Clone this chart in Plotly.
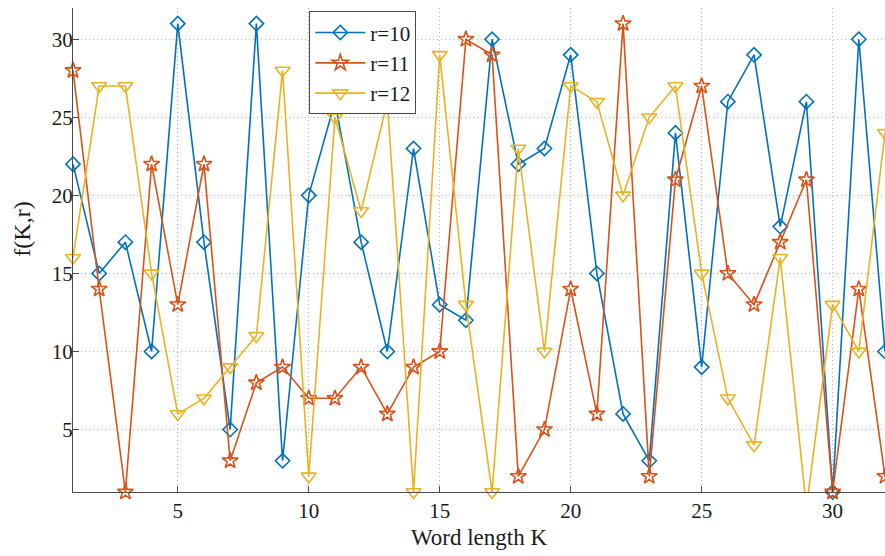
import plotly.graph_objects as go

K = list(range(1, 33))
r10 = [22, 15, 17, 10, 31, 17, 5, 31, 3, 20, 26, 17, 10, 23, 13, 12, 30, 22, 23, 29,
       15, 6, 3, 24, 9, 26, 29, 18, 26, 1, 30, 10]
r11 = [28, 14, 1, 22, 13, 22, 3, 8, 9, 7, 7, 9, 6, 9, 10, 30, 29, 2, 5, 14,
       6, 31, 2, 21, 27, 15, 13, 17, 21, 1, 14, 2]
r12 = [16, 27, 27, 15, 6, 7, 9, 11, 28, 2, 25, 19, 26, 1, 29, 13, 1, 23, 10, 27,
       26, 20, 25, 27, 15, 7, 4, 16, 0, 13, 10, 24]
names = ["r=10", "r=11", "r=12"]
colors = ["#0072BD", "#D95319", "#EDB120"]
symbols = ["diamond-open", "star-open", "triangle-down-open"]
sizes = [11, 12, 13]
x_range = [1, 32]
y_range = [1, 32]
ticks = [5, 10, 15, 20, 25, 30]

SERIF = "Liberation Serif, Times New Roman, DejaVu Serif, serif"
AX = "#4a4a4a"

fig = go.Figure()
for name, vals, c, s, sz in zip(names, [r10, r11, r12], colors, symbols, sizes):
    op = [1 if y_range[0] <= v <= y_range[1] else 0 for v in vals]
    fig.add_trace(go.Scatter(
        x=K, y=vals, name=name, mode="lines+markers",
        line=dict(color=c, width=1.6),
        marker=dict(symbol=s, size=sz, color=c, opacity=op,
                    line=dict(color=c, width=1.6)),
        cliponaxis=False,
    ))

axis_common = dict(
    showline=True, linecolor=AX, linewidth=1,
    ticks="inside", ticklen=6, tickcolor=AX,
    showgrid=True, gridcolor="#b4b4b4", griddash="1px,3px", gridwidth=1,
    zeroline=False, mirror=False,
    tickfont=dict(family=SERIF, size=21, color="#1a1a1a"),
    title_font=dict(family=SERIF, size=23, color="#1a1a1a"),
)

fig.update_layout(
    width=885, height=556,
    margin=dict(l=73, r=0, t=8, b=64),
    plot_bgcolor="white", paper_bgcolor="white",
    font=dict(family=SERIF),
    xaxis=dict(range=x_range, tickvals=ticks, title=dict(text="Word length K", standoff=6),
               **axis_common),
    yaxis=dict(range=y_range, tickvals=ticks, ticklabelstandoff=-5, **axis_common),
    legend=dict(x=0.291, y=0.993, xanchor="left", yanchor="top",
                bgcolor="white", bordercolor=AX, borderwidth=1,
                font=dict(family=SERIF, size=21, color="#1a1a1a"),
                tracegroupgap=0, itemwidth=50),
    showlegend=True,
    annotations=[dict(text="f(K,r)", textangle=-90, xref="paper", yref="paper",
                      x=-0.0628, y=0.542, xanchor="center", yanchor="middle",
                      showarrow=False, font=dict(family=SERIF, size=24, color="#1a1a1a"))],
)

fig.write_html("out.html", config={"displayModeBar": False},
               post_script="document.body.style.margin='0';document.body.style.overflow='hidden';")
